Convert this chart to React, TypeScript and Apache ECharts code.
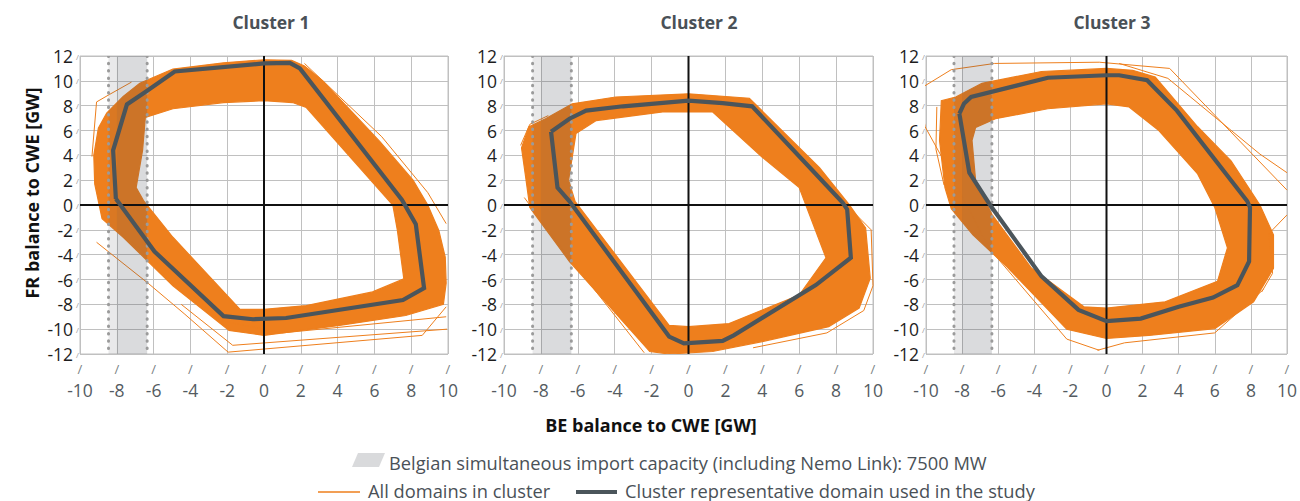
import React, { useEffect, useRef } from "react";
import * as echarts from "echarts";

// ---------- data (GW) ----------
const CLUSTER_TITLES = ["Cluster 1", "Cluster 2", "Cluster 3"];
const X_AXIS_NAME = "BE balance to CWE [GW]";
const Y_AXIS_NAME = "FR balance to CWE [GW]";
const LEGEND_IMPORT = "Belgian simultaneous import capacity (including Nemo Link): 7500 MW";
const LEGEND_ALL = "All domains in cluster";
const LEGEND_REP = "Cluster representative domain used in the study";

// Belgian import capacity band (x values)
const IMPORT_LEFT = -8.45;
const IMPORT_GRID = -8;
const IMPORT_RIGHT = -6.35;

// Cluster 1
const rep1 = [[-8.05, 0.5], [-8.2, 4.4], [-7.45, 8.1], [-6.45, 9.1], [-4.85, 10.75], [0, 11.4], [1.4, 11.45], [1.95, 11.0], [7.5, 0.4], [8.25, -1.55], [8.7, -6.7], [7.55, -7.65], [1.2, -9.1], [-0.6, -9.2], [-2.2, -8.95], [-5.95, -3.75]];
const outer1 = [[-9.0, 6.2], [-8.55, 7.4], [-7.65, 8.75], [-6.75, 9.8], [-4.95, 10.95], [-2.2, 11.45], [0, 11.7], [1.5, 11.65], [2.2, 11.2], [3.2, 10.0], [6.3, 5.1], [8.1, 2.0], [8.9, 0], [9.5, -2.05], [9.85, -4.2], [9.9, -6.3], [9.75, -8.0], [7.7, -8.9], [4.1, -9.7], [0, -10.5], [-1.9, -10.1], [-4.95, -6.5], [-7.65, -2.6], [-8.8, -1.1], [-9.2, 1.7], [-9.25, 4.0]];
const inner1 = [[-6.45, 7.05], [-4.95, 7.75], [-2.2, 8.25], [0, 8.4], [1.55, 8.25], [2.3, 7.85], [7.0, 0], [7.25, -2.05], [7.6, -5.95], [5.9, -7.0], [2.3, -8.1], [0, -8.4], [-1.3, -8.4], [-4.95, -2.6], [-6.55, 0.35], [-6.95, 1.4], [-6.6, 4.4]];
const extra1 = [
  [[-9.1, -3.0], [-6.3, -6.3], [-4.3, -8.8], [-1.95, -11.85], [8.6, -10.5], [9.9, -8.2]],
  [[-4.5, -8.0], [-1.7, -11.3], [9.95, -10.0]],
  [[-9.35, 3.9], [-9.1, 8.3], [-8.4, 8.9], [-7.2, 9.9]],
  [[2.2, 11.4], [6.4, 5.5], [8.9, 1.0], [9.9, -1.5]],
  [[-8.3, -1.6], [-5.2, -5.4], [-2.4, -9.3], [1.0, -10.3], [9.9, -9.0]],
];

// Cluster 2
const rep2 = [[-7.45, 5.9], [-7.1, 1.4], [-6.45, 0.3], [-1.05, -10.6], [-0.25, -11.15], [1.85, -10.95], [2.45, -10.5], [6.9, -6.45], [8.8, -4.25], [8.6, -0.35], [8.35, 0.2], [6.9, 2.5], [3.45, 7.95], [1.85, 8.2], [0, 8.4], [-3.55, 7.95], [-5.55, 7.6], [-6.45, 6.95]];
const outer2 = [[-8.65, 6.3], [-7.75, 6.95], [-6.3, 8.15], [-3.95, 8.7], [0, 8.95], [3.3, 8.6], [7.1, 3.0], [8.7, 0.05], [9.6, -1.85], [9.85, -5.9], [9.25, -8.3], [7.6, -9.8], [4.0, -11.0], [1.3, -11.8], [-1.05, -12], [-2.1, -11.8], [-6.45, -4.55], [-8.6, -0.2], [-8.85, 2.5], [-9.05, 4.6]];
const inner2 = [[-6.1, 5.75], [-5.0, 6.8], [-1.4, 7.5], [1.3, 7.5], [4.0, 3.85], [6.0, 1.4], [6.55, -0.75], [7.45, -4.25], [6.0, -7.25], [2.2, -9.55], [0, -9.8], [-1.05, -9.7], [-6.15, 0.3], [-6.5, 2.0]];
const extra2 = [
  [[8.9, -0.5], [9.9, -2.0], [10.0, -6.5], [9.5, -8.5], [7.5, -10.3], [3.5, -11.5]],
  [[-9.1, 4.8], [-8.6, 6.5], [-7.6, 7.2]],
  [[-8.9, 0.6], [-6.8, -3.6], [-2.4, -11.9]],
];

// Cluster 3
const rep3 = [[-8.15, 7.35], [-7.6, 2.6], [-6.45, 0], [-3.6, -5.75], [-1.55, -8.45], [0, -9.35], [1.9, -9.15], [4.0, -8.2], [5.9, -7.45], [7.25, -6.45], [7.9, -4.55], [7.95, -0.2], [7.8, 0.3], [3.9, 7.6], [2.25, 10.05], [0.7, 10.45], [0, 10.45], [-3.25, 10.25], [-7.5, 8.7], [-7.9, 8.15]];
const outer3 = [[-8.35, 8.7], [-6.9, 9.8], [-3.6, 10.75], [0, 11.0], [1.45, 10.85], [2.7, 10.3], [5.05, 6.3], [6.9, 3.55], [8.5, 0], [9.25, -2.4], [9.25, -5.1], [8.15, -7.8], [6.0, -9.95], [2.35, -10.5], [0, -10.75], [-2.2, -10.0], [-5.5, -5.0], [-7.4, -2.4], [-8.6, -0.3], [-8.95, 1.4], [-9.25, 5.2], [-9.15, 8.4]];
const inner3 = [[-7.25, 6.25], [-6.15, 6.95], [-3.25, 7.75], [0, 8.15], [1.25, 7.9], [2.9, 6.0], [5.05, 2.5], [6.0, -0.2], [6.7, -3.45], [6.15, -6.15], [3.25, -7.8], [0, -8.3], [-1.25, -8.2], [-4.15, -5.1], [-6.35, -0.75], [-7.25, 1.95], [-7.45, 5.2]];
const extra3 = [
  [[-10.4, 9.3], [-8.6, 10.9], [-6.2, 11.4], [-0.4, 11.5], [3.5, 11.0], [10.0, 1.2]],
  [[-10.4, 9.3], [-10.05, 6.3], [-9.1, 3.8], [-6.5, -3.5], [-2.2, -10.8], [-0.4, -11.7]],
  [[0.7, 11.4], [3.4, 10.2], [8.5, 4.1], [10.0, 2.6]],
  [[10.0, -0.8], [9.0, -2.3], [9.2, -5.5], [8.6, -7.0]],
  [[8.7, -6.8], [6.0, -10.3], [1.0, -11.1], [-0.5, -11.7]],
  [[-9.4, 7.9], [-9.45, 4.5], [-9.0, 1.6]],
];

const CLUSTERS = [
  { rep: rep1, outer: outer1, inner: inner1, extra: extra1 },
  { rep: rep2, outer: outer2, inner: inner2, extra: extra2 },
  { rep: rep3, outer: outer3, inner: inner3, extra: extra3 },
];

// ---------- styles ----------
const ORANGE = "#ee7f1d";
const DARK = "#4b555b";
const FONT = '"Open Sans"';
const GRID_LEFTS = [80, 504, 926];
const GRID_WIDTHS = [368, 369, 368];
const GRID_TOP = 56;
const GRID_HEIGHT = 298;
const TITLE_X = [271, 699, 1112];

function signedArea(pts: number[][]) {
  let a = 0;
  for (let i = 0; i < pts.length; i++) {
    const p = pts[i];
    const q = pts[(i + 1) % pts.length];
    a += p[0] * q[1] - q[0] * p[1];
  }
  return a;
}

function ringPath(pts: number[][]) {
  return pts.map((p, i) => (i === 0 ? "M" : "L") + p[0].toFixed(2) + " " + p[1].toFixed(2)).join(" ") + " Z ";
}

function App() {
  const ref = useRef<HTMLDivElement>(null);
  useEffect(() => {
    const chart = echarts.init(ref.current!, null, { renderer: "svg" });

    const grid = GRID_LEFTS.map((l, i) => ({
      left: l,
      top: GRID_TOP,
      width: GRID_WIDTHS[i],
      height: GRID_HEIGHT,
      show: true,
      borderColor: "#c0c0c0",
      borderWidth: 1,
    }));

    const xAxis = GRID_LEFTS.map((_, i) => ({
      type: "value",
      gridIndex: i,
      min: -10,
      max: 10,
      interval: 2,
      axisLine: { show: false },
      axisTick: { show: false },
      splitLine: { show: true, lineStyle: { color: "#c0c0c0", width: 1 } },
      axisLabel: {
        margin: 6,
        formatter: (v: number) => `{s|/}\n{v|${v}}`,
        rich: {
          s: { fontSize: 13, color: "#7a7f84", lineHeight: 18, fontFamily: FONT },
          v: { fontSize: 17.5, color: "#545b61", lineHeight: 24, fontFamily: FONT },
        },
      },
    }));

    const yAxis = GRID_LEFTS.map((_, i) => ({
      type: "value",
      gridIndex: i,
      min: -12,
      max: 12,
      interval: 2,
      axisLine: { show: false },
      axisTick: { show: false },
      splitLine: { show: true, lineStyle: { color: "#c0c0c0", width: 1 } },
      axisLabel: {
        margin: 1,
        formatter: (v: number) => `{v|${v}}{s|/}`,
        rich: {
          v: { fontSize: 17.5, color: "#1d1d1d", fontFamily: FONT },
          s: { fontSize: 8, color: "#9a9a9a", padding: [0, 0, 0, 3], fontFamily: FONT },
        },
      },
    }));

    const series: any[] = [];
    CLUSTERS.forEach((c, i) => {
      // orange band of all domains
      series.push({
        type: "custom",
        coordinateSystem: "cartesian2d",
        xAxisIndex: i,
        yAxisIndex: i,
        clip: true,
        silent: true,
        z: 2,
        data: [[0, 0]],
        renderItem: (params: any, api: any) => {
          const o = c.outer.map((p) => api.coord(p));
          let inn = c.inner.map((p) => api.coord(p));
          if (Math.sign(signedArea(o)) === Math.sign(signedArea(inn))) inn = inn.slice().reverse();
          return {
            type: "path",
            shape: { pathData: ringPath(o) + ringPath(inn) },
            style: { fill: ORANGE, stroke: ORANGE, lineWidth: 1.2 },
          };
        },
      });
      // thin individual outlying domains
      c.extra.forEach((line) => {
        series.push({
          type: "line",
          xAxisIndex: i,
          yAxisIndex: i,
          data: line,
          showSymbol: false,
          silent: true,
          z: 2,
          clip: true,
          lineStyle: { color: ORANGE, width: 1 },
        });
      });
      // import capacity overlay + zero axes
      series.push({
        type: "custom",
        coordinateSystem: "cartesian2d",
        xAxisIndex: i,
        yAxisIndex: i,
        clip: true,
        silent: true,
        z: 4,
        data: [[0, 0]],
        renderItem: (params: any, api: any) => {
          const tl = api.coord([IMPORT_GRID, 12]);
          const br = api.coord([IMPORT_RIGHT, -12]);
          const ll = api.coord([IMPORT_LEFT, 12]);
          const lb = api.coord([IMPORT_LEFT, -12]);
          const z0t = api.coord([0, 12]);
          const z0b = api.coord([0, -12]);
          const y0l = api.coord([-10, 0]);
          const y0r = api.coord([10, 0]);
          const dots = { stroke: "#9b9b9b", lineWidth: 3, lineDash: [0.5, 6.8], lineCap: "round" };
          return {
            type: "group",
            children: [
              { type: "rect", shape: { x: ll[0], y: ll[1], width: tl[0] - ll[0], height: lb[1] - ll[1] }, style: { fill: "rgba(70,75,85,0.12)" } },
              { type: "rect", shape: { x: tl[0], y: tl[1], width: br[0] - tl[0], height: br[1] - tl[1] }, style: { fill: "rgba(70,75,85,0.2)" } },
              { type: "line", shape: { x1: ll[0], y1: ll[1], x2: lb[0], y2: lb[1] }, style: dots },
              { type: "line", shape: { x1: br[0], y1: tl[1], x2: br[0], y2: br[1] }, style: dots },
              { type: "line", shape: { x1: z0t[0], y1: z0t[1], x2: z0b[0], y2: z0b[1] }, style: { stroke: "#111", lineWidth: 2 } },
              { type: "line", shape: { x1: y0l[0], y1: y0l[1], x2: y0r[0], y2: y0r[1] }, style: { stroke: "#111", lineWidth: 2 } },
            ],
          };
        },
      });
      // representative domain
      series.push({
        type: "line",
        xAxisIndex: i,
        yAxisIndex: i,
        data: [...c.rep, c.rep[0]],
        showSymbol: false,
        silent: true,
        z: 6,
        lineStyle: { color: DARK, width: 4.2, join: "miter" },
      });
    });

    const graphic: any[] = [];
    CLUSTER_TITLES.forEach((t, i) => {
      graphic.push({
        type: "text",
        x: TITLE_X[i],
        y: 22,
        style: { text: t, font: `bold 17.5px ${FONT}`, fill: "#4a5157", textAlign: "center", textVerticalAlign: "middle" },
      });
    });
    graphic.push({
      type: "text",
      x: 32,
      y: 193,
      rotation: Math.PI / 2,
      style: { text: Y_AXIS_NAME, font: `bold 18px ${FONT}`, fill: "#111", textAlign: "center", textVerticalAlign: "middle" },
    });
    graphic.push({
      type: "text",
      x: 651,
      y: 425,
      style: { text: X_AXIS_NAME, font: `bold 18px ${FONT}`, fill: "#111", textAlign: "center", textVerticalAlign: "middle" },
    });
    // legend
    const LEG_FONT = `18.3px ${FONT}`;
    graphic.push({ type: "polygon", shape: { points: [[352, 467], [358, 453], [385, 453], [379, 467]] }, style: { fill: "#d9dadc" } });
    graphic.push({ type: "text", x: 389, y: 462, style: { text: LEGEND_IMPORT, font: LEG_FONT, fill: "#4a5157", textAlign: "left", textVerticalAlign: "middle" } });
    graphic.push({ type: "line", shape: { x1: 318, y1: 492, x2: 360, y2: 492 }, style: { stroke: ORANGE, lineWidth: 1.5 } });
    graphic.push({ type: "text", x: 368, y: 490, style: { text: LEGEND_ALL, font: LEG_FONT, fill: "#4a5157", textAlign: "left", textVerticalAlign: "middle" } });
    graphic.push({ type: "line", shape: { x1: 576, y1: 492, x2: 617, y2: 492 }, style: { stroke: DARK, lineWidth: 4 } });
    graphic.push({ type: "text", x: 625, y: 490, style: { text: LEGEND_REP, font: LEG_FONT, fill: "#4a5157", textAlign: "left", textVerticalAlign: "middle" } });

    chart.setOption({
      animation: false,
      backgroundColor: "#ffffff",
      textStyle: { fontFamily: FONT },
      grid,
      xAxis,
      yAxis,
      series,
      graphic,
    });
    return () => chart.dispose();
  }, []);
  return <div ref={ref} style={{ position: "fixed", left: 0, top: 0, width: 1300, height: 501, background: "#fff" }} />;
}

export default App;
